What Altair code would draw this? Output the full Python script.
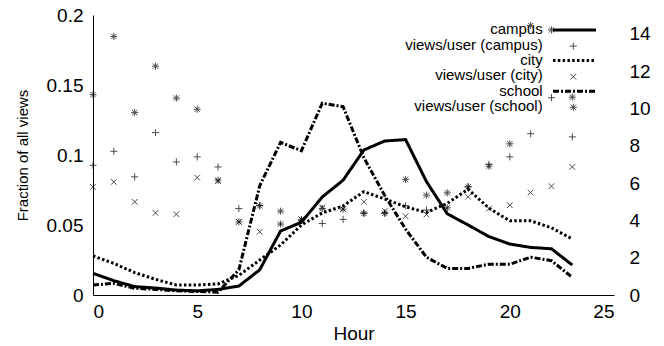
import altair as alt
import pandas as pd

# Hour of day
hours = list(range(24))

# Fraction of all views per hour (left axis)
campus_frac = [0.0155, 0.0102, 0.006, 0.005, 0.0035, 0.003, 0.004, 0.0064, 0.018, 0.0457,
               0.052, 0.070, 0.082, 0.1036, 0.110, 0.111, 0.081, 0.058, 0.050, 0.0417,
               0.0364, 0.034, 0.033, 0.0214]
city_frac = [0.0279, 0.0226, 0.016, 0.0112, 0.0071, 0.0071, 0.0079, 0.014, 0.025, 0.0357,
             0.050, 0.0586, 0.0636, 0.0738, 0.0686, 0.063, 0.059, 0.0655, 0.0755, 0.062,
             0.053, 0.053, 0.048, 0.040]
school_frac = [0.0071, 0.0083, 0.0048, 0.004, 0.003, 0.0025, 0.002, 0.018, 0.078, 0.109,
               0.103, 0.137, 0.1345, 0.098, 0.071, 0.047, 0.027, 0.019, 0.019, 0.022,
               0.022, 0.027, 0.0245, 0.0126]

# Views per user per hour (right axis)
campus_vpu = [6.95, 7.7, 6.33, 8.7, 7.13, 7.4, 6.86, 4.63, 4.8, 3.8, 4.0, 3.83, 4.05, 4.4,
              4.4, 4.78, 4.55, 4.67, 5.8, 7.0, 7.4, 8.64, 10.57, 8.47]
city_vpu = [5.79, 6.06, 4.99, 4.4, 4.33, 6.29, 6.1, 3.92, 3.39, 3.8, 4.05, 4.7, 4.6, 4.99,
            4.5, 4.22, 4.31, 4.67, 5.26, 4.63, 4.81, 5.49, 5.83, 6.86]
school_vpu = [10.73, 13.85, 9.77, 12.26, 10.55, 9.95, 6.15, 3.92, 4.78, 4.49, 4.05, 4.63,
              4.6, 4.37, 4.37, 6.19, 5.35, 5.47, 5.79, 6.9, 8.1, 14.44, 14.2, 10.6]

series = ["campus", "city", "school"]
legend_labels = ["campus", "views/user (campus)", "city", "views/user (city)",
                 "school", "views/user (school)"]

FONT = "Liberation Sans"
DASHES = [[1, 0], [2.5, 2.3], [6, 2, 2, 2]]
PLUS = "M-1,0L1,0M0,-1L0,1"
CROSS = "M-0.8,-0.8L0.8,0.8M-0.8,0.8L0.8,-0.8"
STAR = "M-1,0L1,0M0,-1L0,1M-0.75,-0.75L0.75,0.75M-0.75,0.75L0.75,-0.75"
SHAPES = [PLUS, CROSS, STAR]

frac_df = pd.DataFrame({"hour": hours, "campus": campus_frac, "city": city_frac,
                        "school": school_frac}).melt("hour", var_name="series", value_name="frac")
vpu_df = pd.DataFrame({"hour": hours, "campus": campus_vpu, "city": city_vpu,
                       "school": school_vpu}).melt("hour", var_name="series", value_name="vpu")

x_enc = alt.X(
    "hour:Q",
    scale=alt.Scale(domain=[0, 25], nice=False, zero=False),
    axis=alt.Axis(values=[0, 5, 10, 15, 20, 25], title="Hour", titleFont=FONT,
                  titleFontSize=19, titleFontWeight="normal", titleColor="black",
                  titleBaseline="alphabetic", titleY=44, labelFont=FONT, labelFontSize=19,
                  labelColor="black", labelPadding=7, ticks=False, grid=False,
                  domainColor="black", domainWidth=1),
)

lines = alt.Chart(frac_df).mark_line(color="black", strokeWidth=3, strokeCap="butt").encode(
    x=x_enc,
    y=alt.Y("frac:Q", scale=alt.Scale(domain=[0, 0.2], nice=False),
            axis=alt.Axis(orient="left", values=[0, 0.05, 0.1, 0.15, 0.2], format="~g",
                          title="Fraction of all views", titleFont=FONT, titleFontSize=15,
                          titleFontWeight="normal", titleColor="black", titleX=-66,
                          titleY=140, titleBaseline="alphabetic", labelFont=FONT,
                          labelFontSize=19, labelColor="black", labelPadding=10,
                          ticks=False, grid=False, domainColor="black", domainWidth=1)),
    strokeDash=alt.StrokeDash("series:N", scale=alt.Scale(domain=series, range=DASHES),
                              legend=None),
    detail="series:N",
)

points = alt.Chart(vpu_df).mark_point(filled=False, color="black", strokeWidth=1, size=50).encode(
    x=x_enc,
    y=alt.Y("vpu:Q", scale=alt.Scale(domain=[0, 15], nice=False),
            axis=alt.Axis(orient="right", values=list(range(0, 15, 2)), title="",
                          labelFont=FONT, labelFontSize=19, labelColor="black",
                          labelPadding=15, ticks=False, grid=False, domain=False)),
    shape=alt.Shape("series:N", scale=alt.Scale(domain=series, range=SHAPES), legend=None),
)

# Key in the top-right corner: labels right-aligned, samples to their right
one = alt.Data(values=[{}])
key = []
for i, label in enumerate(legend_labels):
    y_text = 19.3 + i * 15.3
    key.append(alt.Chart(one).mark_text(font=FONT, fontSize=15, align="right",
                                        baseline="alphabetic", color="black").encode(
        x=alt.value(449.7), y=alt.value(y_text), text=alt.value(label)))
    s = i // 2
    if i % 2 == 0:
        key.append(alt.Chart(one).mark_rule(color="black", strokeWidth=3, strokeCap="butt",
                                            strokeDash=DASHES[s]).encode(
            x=alt.value(460), x2=alt.value(503), y=alt.value(y_text - 4.3)))
    else:
        key.append(alt.Chart(one).mark_point(filled=False, color="black", strokeWidth=1,
                                             size=50, shape=SHAPES[s]).encode(
            x=alt.value(480.3), y=alt.value(y_text - 3.5)))

chart = alt.layer(lines, points, *key).resolve_scale(y="independent").properties(
    width=521, height=280,
    autosize=alt.AutoSizeParams(type="none"),
    padding={"left": 93, "top": 15, "right": 50, "bottom": 51},
    background="white",
).configure_view(strokeWidth=0)

chart.save("out.html", embed_options={"renderer": "svg", "actions": False})
